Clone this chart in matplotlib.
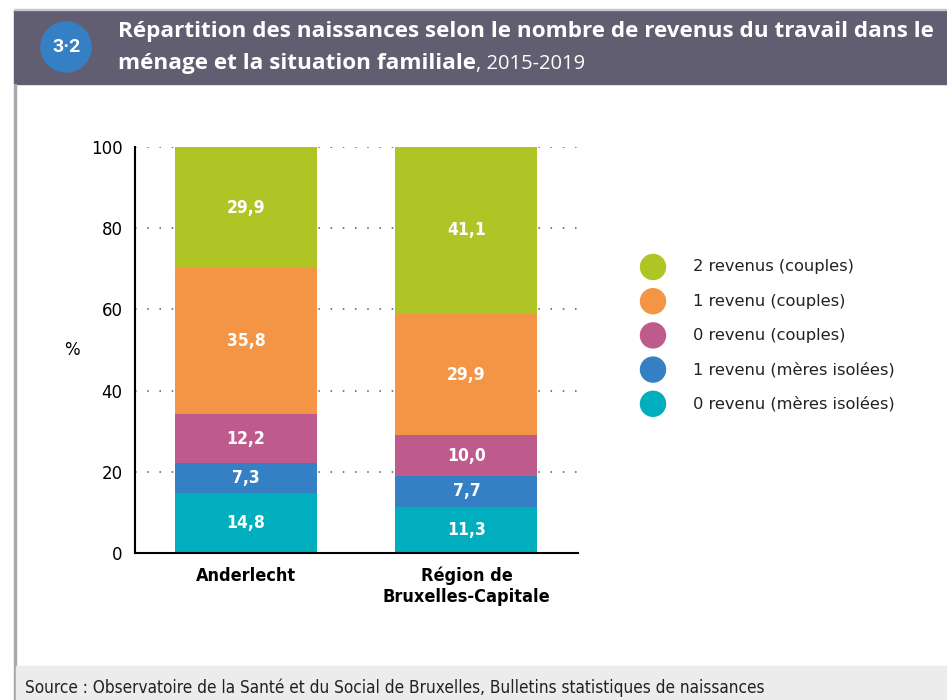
import matplotlib.pyplot as plt
from matplotlib.patches import Rectangle, Ellipse

categories = ['Anderlecht', 'Région de\nBruxelles-Capitale']
series = ['0 revenu (mères isolées)', '1 revenu (mères isolées)', '0 revenu (couples)',
          '1 revenu (couples)', '2 revenus (couples)']
values = {
    '0 revenu (mères isolées)': [14.8, 11.3],
    '1 revenu (mères isolées)': [7.3, 7.7],
    '0 revenu (couples)': [12.2, 10.0],
    '1 revenu (couples)': [35.8, 29.9],
    '2 revenus (couples)': [29.9, 41.1],
}
colors = ['#00aebd', '#3580c4', '#bf5b8c', '#f39545', '#afc526']
yticks = [0, 20, 40, 60, 80, 100]

W, H = 947, 700
fig = plt.figure(figsize=(W / 100, H / 100), dpi=100)


def disc(cx, cy, r, col):
    # round marker given in pixels, top-left origin
    fig.patches.append(Ellipse((cx / W, 1 - cy / H), 2 * r / W, 2 * r / H,
                               transform=fig.transFigure, color=col, zorder=1))


# frame: header band, left border, footer band
fig.patches.append(Rectangle((14/W, 1-84/H), 1, 74/H, transform=fig.transFigure,
                             color='#625e71', zorder=0))
fig.patches.append(Rectangle((14/W, 1-10/H), 1, 1.5/H, transform=fig.transFigure,
                             color='#c8c6cc', zorder=0))
fig.patches.append(Rectangle((14/W, 0), 1.5/W, 1-84/H, transform=fig.transFigure,
                             color='#a8a6ae', zorder=0))
fig.patches.append(Rectangle((15.5/W, 0), 1, 34/H, transform=fig.transFigure,
                             color='#ececec', zorder=0))
disc(66, 47, 25, '#3580c4')
fig.text(66/W, 1-47/H, '3·2', color='white', fontsize=14, fontweight='bold',
         family='Roboto', ha='center', va='center')
fig.text(118/W, 1-31/H, 'Répartition des naissances selon le nombre de revenus du travail dans le',
         color='white', fontsize=16.2, fontweight='bold', family='Open Sans', va='center')
t2 = fig.text(118/W, 1-64/H, 'ménage et la situation familiale', color='white', fontsize=16.2,
              fontweight='bold', family='Open Sans', va='center')
fig.canvas.draw()
x_end = t2.get_window_extent().x1
fig.text(x_end / W, 1-64/H, ', 2015-2019', color='white', fontsize=14.5, family='Open Sans',
         va='center')
fig.text(25/W, 1-688/H,
         'Source : Observatoire de la Santé et du Social de Bruxelles, Bulletins statistiques de naissances',
         fontsize=12.3, family='DejaVu Sans', stretch='condensed', va='center', color='#222222')

ax = fig.add_axes([135/W, 1-553/H, 443/W, 406/H])
x = [0, 1]
bottom = [0, 0]
for name, col in zip(series, colors):
    vals = values[name]
    ax.bar(x, vals, width=0.644, bottom=bottom, color=col, zorder=2, label=name)
    for xi, b, v in zip(x, bottom, vals):
        ax.text(xi, b + v / 2, f'{v:.1f}'.replace('.', ','), ha='center', va='center',
                color='white', fontsize=12.5, fontweight='bold', stretch='condensed', zorder=3)
    bottom = [b + v for b, v in zip(bottom, vals)]

ax.set_xlim(-0.503, 1.506)
ax.set_ylim(0, 100)
ax.set_yticks(yticks)
ax.set_yticklabels([str(t) for t in yticks], fontsize=12)
ax.yaxis.grid(True, linestyle=(0, (1, 7)), color='#555555', linewidth=1.1, zorder=0)
ax.set_axisbelow(True)
ax.tick_params(axis='y', length=0, pad=9)
ax.tick_params(axis='x', length=0, pad=10)
ax.set_xticks(x)
ax.set_xticklabels(categories, fontsize=13, fontweight='bold', stretch='condensed')
for s in ['top', 'right']:
    ax.spines[s].set_visible(False)
ax.spines['left'].set_linewidth(1.5)
ax.spines['bottom'].set_linewidth(1.5)
ax.set_ylabel('%', rotation=0, fontsize=12, va='center', ha='center')
ax.yaxis.set_label_coords((72 - 135) / 443, (553 - 350) / 406)

# legend, top entry first
for i, (name, col) in enumerate(zip(series[::-1], colors[::-1])):
    yy = 267 + i * 34.2
    disc(653, yy, 12.5, col)
    fig.text(693/W, 1 - yy / H, name, fontsize=11.7, va='center', color='#222222')

fig.savefig('out.png', dpi=100)
